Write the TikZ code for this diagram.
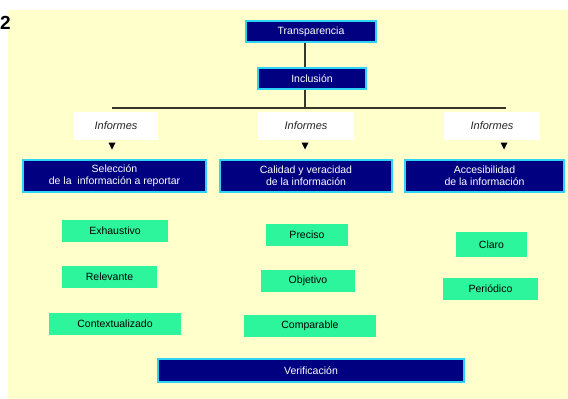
\documentclass[tikz,border=0pt]{standalone}
\usepackage{fontspec}
\setmainfont{Liberation Sans}
\definecolor{bgyellow}{RGB}{255,255,204}
\definecolor{navyb}{RGB}{0,0,128}
\definecolor{cyanb}{RGB}{45,210,245}
\definecolor{mint}{RGB}{45,245,155}
\definecolor{connc}{RGB}{55,55,40}
\tikzset{
  bluebox/.style={draw=cyanb, line width=2pt, fill=navyb, text=white, inner sep=0pt,
    align=center, font=\fontsize{10.5}{12}\selectfont},
  greenbox/.style={fill=mint, text=black, inner sep=0pt, font=\fontsize{10.5}{12}\selectfont},
  infobox/.style={fill=white, text=black!85, inner sep=0pt, minimum width=96pt, minimum height=28pt,
    font=\itshape\fontsize{11}{12}\selectfont},
  conn/.style={draw=connc, line width=1.4pt},
  tip/.style={fill=black}
}
\begin{document}
\begin{tikzpicture}[x=1pt,y=-1pt]
\useasboundingbox (0,0) rectangle (568,399);
\fill[bgyellow] (8,10) rectangle (568,399);
\node[font=\bfseries\fontsize{19}{19}\selectfont, anchor=west, inner sep=0pt] (num) at (0,23) {2};

% top boxes
\node[bluebox, minimum width=130pt, minimum height=21pt] (trans) at (311,31.5) {Transparencia};
\node[bluebox, minimum width=108pt, minimum height=21pt] (incl) at (312,78.5) {Inclusión};

% bus
\coordinate (bus) at (305,108);
\coordinate (busL) at (112,108);
\coordinate (busR) at (506,108);
\draw[conn] (trans.south -| bus) -- (incl.north -| bus);
\draw[conn] (incl.south -| bus) -- (bus);
\draw[conn] (busL) -- (busR);

% Informes
\node[infobox, minimum width=84pt] (inf1) at (116,126) {Informes};
\node[infobox] (inf2) at (306,126) {Informes};
\node[infobox] (inf3) at (492,126) {Informes};

% triangles
\foreach \n/\x in {t1/112, t2/305, t3/504}{
  \coordinate (\n) at (\x,146);
  \fill[tip] ([shift={(-3.5,-3.5)}]\n) -- ([shift={(3.5,-3.5)}]\n) -- ([shift={(0,3.5)}]\n) -- cycle;
}

% second row
\node[bluebox, minimum width=183pt, minimum height=32pt] (sel) at (114.5,176) {Selección\\de la \ información a reportar};
\node[bluebox, minimum width=172pt, minimum height=32pt] (cal) at (306,176) {Calidad y veracidad\\de la información};
\node[bluebox, minimum width=159pt, minimum height=32pt] (acc) at (484.5,176) {Accesibilidad\\de la información};

% green boxes
\node[greenbox, minimum width=106pt, minimum height=22pt] (exh) at (115,231) {Exhaustivo};
\node[greenbox, minimum width=95pt, minimum height=22pt] (rel) at (109.5,277) {Relevante};
\node[greenbox, minimum width=132pt, minimum height=22pt] (con) at (115,324) {Contextualizado};
\node[greenbox, minimum width=82pt, minimum height=22pt] (pre) at (307,235) {Preciso};
\node[greenbox, minimum width=94pt, minimum height=22pt] (obj) at (308,281) {Objetivo};
\node[greenbox, minimum width=132pt, minimum height=22pt] (com) at (310,326) {Comparable};
\node[greenbox, minimum width=71pt, minimum height=25pt] (cla) at (491.5,244.5) {Claro};
\node[greenbox, minimum width=95pt, minimum height=22pt] (per) at (490.5,289) {Periódico};

% bottom
\node[bluebox, minimum width=306pt, minimum height=23pt] (ver) at (311,370.5) {Verificación};
\end{tikzpicture}
\end{document}
